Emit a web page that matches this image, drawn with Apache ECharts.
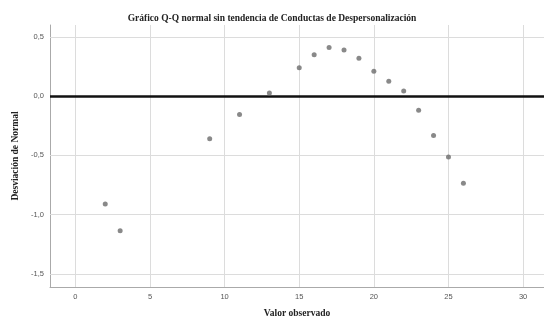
<!DOCTYPE html>
<html>
<head>
<meta charset="utf-8">
<script src="https://cdn.jsdelivr.net/npm/echarts@6/dist/echarts.min.js"></script>
<style>
  html, body { margin: 0; padding: 0; background: #fff; }
  #chart { width: 544px; height: 327px; }
</style>
</head>
<body>
<div id="chart"></div>
<script>
// Observed values and their deviation from the normal expectation
const observed = [2, 3, 9, 11, 13, 15, 16, 17, 18, 19, 20, 21, 22, 23, 24, 25, 26];
const deviation = [-0.91, -1.135, -0.36, -0.155, 0.027, 0.24, 0.35, 0.41, 0.39, 0.32, 0.21, 0.125, 0.044, -0.12, -0.333, -0.513, -0.735];

const xTicks = [0, 5, 10, 15, 20, 25, 30];
const yTicks = [-1.5, -1.0, -0.5, 0.0, 0.5];

const chart = echarts.init(document.getElementById('chart'));
const gridColor = '#dcdcdc';
const serif = '"Liberation Serif", "Times New Roman", serif';
const sans = '"Liberation Sans", Arial, sans-serif';

chart.setOption({
  animation: false,
  title: {
    text: 'Gráfico Q-Q normal sin tendencia de Conductas de Despersonalización',
    left: 'center',
    top: 9,
    textStyle: { fontFamily: serif, fontWeight: 'bold', fontSize: 9.5, color: '#222' }
  },
  grid: { left: 50, right: 0, top: 25, bottom: 40 },
  xAxis: {
    type: 'value',
    min: -1.7,
    max: 31.4,
    name: 'Valor observado',
    nameLocation: 'middle',
    nameGap: 22,
    nameTextStyle: { fontFamily: serif, fontWeight: 'bold', fontSize: 9.5, color: '#222' },
    axisLine: { show: true, onZero: false, lineStyle: { color: '#aaa', width: 1 } },
    axisTick: { show: false, customValues: xTicks },
    axisLabel: {
      customValues: xTicks,
      fontFamily: sans, fontSize: 7.5, color: '#555', margin: 6,
      formatter: v => String(v)
    },
    splitLine: { show: false }
  },
  yAxis: {
    type: 'value',
    min: -1.61,
    max: 0.6,
    name: 'Desviación de Normal',
    nameLocation: 'middle',
    nameGap: 28,
    nameTextStyle: { fontFamily: serif, fontWeight: 'bold', fontSize: 9.5, color: '#222' },
    axisLine: { show: true, onZero: false, lineStyle: { color: '#aaa', width: 1 } },
    axisTick: { show: false, customValues: yTicks },
    axisLabel: {
      customValues: yTicks,
      fontFamily: sans, fontSize: 7.5, color: '#555', margin: 6,
      formatter: v => v.toFixed(1).replace('.', ',')
    },
    splitLine: { show: false }
  },
  series: [
    {
      // grid lines at the labelled ticks
      type: 'line',
      data: [],
      silent: true,
      markLine: {
        symbol: 'none',
        silent: true,
        label: { show: false },
        lineStyle: { color: gridColor, width: 1, type: 'solid' },
        data: xTicks.map(v => ({ xAxis: v })).concat(yTicks.filter(v => v !== 0).map(v => ({ yAxis: v })))
      }
    },
    {
      // reference line at zero deviation
      type: 'line',
      data: [],
      silent: true,
      markLine: {
        symbol: 'none',
        silent: true,
        label: { show: false },
        lineStyle: { color: '#111', width: 2.5, type: 'solid' },
        data: [{ yAxis: 0 }]
      }
    },
    {
      type: 'scatter',
      data: observed.map((x, i) => [x, deviation[i]]),
      symbolSize: 5,
      itemStyle: { color: '#6b6b6b' },
      z: 5
    }
  ]
});
</script>
</body>
</html>
